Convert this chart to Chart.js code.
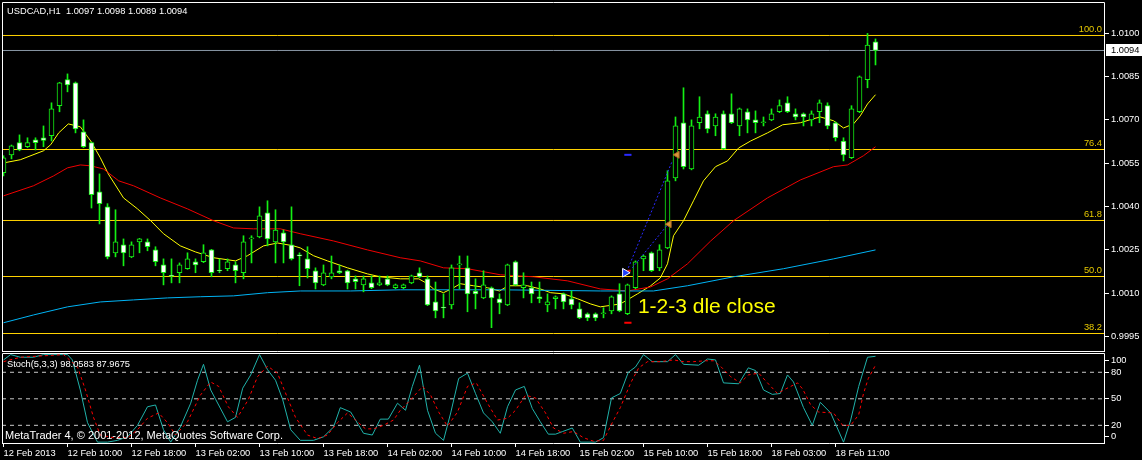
<!DOCTYPE html>
<html>
<head>
<meta charset="utf-8">
<script src="https://cdn.jsdelivr.net/npm/chart.js@4.4.1/dist/chart.umd.min.js"></script>
<style>
html, body { margin: 0; padding: 0; background: #000; overflow: hidden; }
#wrap { position: relative; width: 1142px; height: 460px; background: #000; }
canvas { position: absolute; left: 0; }
#mainChart { top: 0; }
#stochChart { top: 352px; }
</style>
</head>
<body>
<div id="wrap">
  <canvas id="mainChart" width="1142" height="352"></canvas>
  <canvas id="stochChart" width="1142" height="108"></canvas>
</div>
<script>
// USDCAD H1 candles, bar index 0 = 12 Feb 02:00
const opens = [1.00517,1.00579,1.00621,1.00607,1.00631,1.00638,1.00645,1.00749,1.00839,1.00828,
  1.00659,1.00621,1.00451,1.00399,1.00240,1.00268,1.00226,1.00278,1.00278,1.00250,
  1.00198,1.00160,1.00171,1.00185,1.00209,1.00209,1.00250,1.00178,1.00185,1.00198,
  1.00171,1.00288,1.00295,1.00378,1.00278,1.00309,1.00268,1.00233,1.00219,1.00178,
  1.00129,1.00157,1.00178,1.00178,1.00150,1.00129,1.00136,1.00129,1.00150,1.00119,
  1.00119,1.00136,1.00171,1.00150,1.00070,1.00050,1.00060,1.00198,1.00188,1.00108,
  1.00084,1.00119,1.00081,1.00060,1.00209,1.00119,1.00119,1.00088,1.00060,1.00081,
  1.00098,1.00081,1.00046,1.00029,1.00029,1.00029,1.00039,1.00098,1.00029,1.00119,
  1.00219,1.00240,1.00188,1.00257,1.00499,1.00690,1.00530,1.00690,1.00721,1.00679,
  1.00721,1.00721,1.00679,1.00728,1.00700,1.00690,1.00700,1.00728,1.00759,1.00721,
  1.00721,1.00700,1.00728,1.00749,1.00690,1.00627,1.00569,1.00728,1.00839,1.00970];
const highs = [1.00576,1.00613,1.00648,1.00638,1.00638,1.00679,1.00759,1.00830,1.00859,1.00831,
  1.00700,1.00623,1.00513,1.00410,1.00389,1.00288,1.00278,1.00290,1.00288,1.00261,
  1.00219,1.00219,1.00205,1.00240,1.00219,1.00268,1.00252,1.00219,1.00219,1.00209,
  1.00299,1.00299,1.00399,1.00420,1.00389,1.00319,1.00399,1.00240,1.00261,1.00188,
  1.00198,1.00229,1.00198,1.00180,1.00160,1.00160,1.00160,1.00160,1.00160,1.00132,
  1.00132,1.00163,1.00188,1.00160,1.00139,1.00098,1.00198,1.00229,1.00229,1.00150,
  1.00178,1.00122,1.00098,1.00201,1.00212,1.00171,1.00139,1.00139,1.00098,1.00091,
  1.00101,1.00108,1.00067,1.00032,1.00032,1.00050,1.00091,1.00133,1.00132,1.00212,
  1.00232,1.00243,1.00268,1.00524,1.00710,1.00811,1.00700,1.00780,1.00731,1.00721,
  1.00731,1.00790,1.00741,1.00738,1.00731,1.00710,1.00738,1.00769,1.00780,1.00738,
  1.00724,1.00731,1.00769,1.00759,1.00693,1.00638,1.00749,1.00852,1.00999,1.00980];
const lows = [1.00506,1.00565,1.00593,1.00604,1.00596,1.00607,1.00627,1.00728,1.00797,1.00655,
  1.00604,1.00395,1.00340,1.00219,1.00226,1.00195,1.00223,1.00240,1.00247,1.00195,
  1.00129,1.00136,1.00136,1.00183,1.00171,1.00206,1.00157,1.00171,1.00178,1.00136,
  1.00150,1.00205,1.00292,1.00264,1.00205,1.00205,1.00215,1.00126,1.00153,1.00115,
  1.00126,1.00150,1.00168,1.00115,1.00115,1.00105,1.00116,1.00126,1.00126,1.00116,
  1.00116,1.00133,1.00154,1.00057,1.00015,1.00015,1.00046,1.00115,1.00036,1.00046,
  1.00081,0.99981,1.00029,1.00057,1.00126,1.00084,1.00067,1.00067,1.00036,1.00046,
  1.00046,1.00046,1.00012,1.00005,1.00005,1.00015,1.00029,1.00036,1.00026,1.00116,
  1.00178,1.00175,1.00178,1.00254,1.00489,1.00530,1.00527,1.00669,1.00655,1.00645,
  1.00597,1.00687,1.00645,1.00655,1.00655,1.00679,1.00697,1.00725,1.00725,1.00700,
  1.00679,1.00679,1.00690,1.00669,1.00627,1.00558,1.00566,1.00725,1.00811,1.00890];
const closes = [1.00569,1.00610,1.00596,1.00621,1.00621,1.00629,1.00738,1.00828,1.00821,1.00669,
  1.00607,1.00441,1.00410,1.00226,1.00278,1.00240,1.00268,1.00288,1.00261,1.00209,
  1.00171,1.00159,1.00198,1.00219,1.00198,1.00240,1.00171,1.00177,1.00209,1.00178,
  1.00278,1.00289,1.00368,1.00288,1.00319,1.00278,1.00219,1.00229,1.00185,1.00136,
  1.00171,1.00171,1.00171,1.00136,1.00140,1.00150,1.00119,1.00136,1.00129,1.00129,
  1.00129,1.00160,1.00157,1.00060,1.00039,1.00049,1.00188,1.00199,1.00098,1.00098,
  1.00129,1.00084,1.00067,1.00198,1.00129,1.00129,1.00098,1.00081,1.00070,1.00088,
  1.00070,1.00060,1.00015,1.00015,1.00015,1.00030,1.00088,1.00039,1.00129,1.00209,
  1.00229,1.00178,1.00250,1.00489,1.00679,1.00538,1.00679,1.00710,1.00669,1.00710,
  1.00600,1.00690,1.00738,1.00700,1.00690,1.00691,1.00721,1.00749,1.00728,1.00710,
  1.00710,1.00721,1.00759,1.00679,1.00638,1.00579,1.00738,1.00849,1.00959,1.00940];

// moving averages (yellow / red / blue) at bar index positions
const maFastIdx = [0,2.1,5,5.9,6.9,8.1,9.6,10.9,12.1,13.1,15,16.75,18.4,20,22.1,24,26.25,29,30.5,32.5,
  34.25,36.25,37.1,38.75,40.5,43,45.5,47.1,49.6,51.9,53,53.75,55,56.25,57.1,58.75,60.5,62,63.1,65.5,
  67.1,68.4,70,71.75,73.4,74.6,77.1,79.25,80.9,82.1,83,83.75,85,86.25,87.5,89,90.5,91.9,93.4,95.5,
  97.4,99.6,101.25,102.1,103.75,105,106.25,107.1,108,109];
const maFastVal = [1.00551,1.00562,1.00593,1.00614,1.00655,1.00686,1.00676,1.00627,1.00569,1.00513,
  1.00430,1.00392,1.00351,1.00306,1.00264,1.00243,1.00223,1.00212,1.00230,1.00264,
  1.00274,1.00264,1.00257,1.00230,1.00212,1.00188,1.00167,1.00157,1.00150,1.00150,
  1.00133,1.00115,1.00102,1.00119,1.00133,1.00126,1.00119,1.00108,1.00126,1.00126,
  1.00115,1.00102,1.00098,1.00081,1.00063,1.00053,1.00063,1.00098,1.00126,1.00153,
  1.00202,1.00299,1.00351,1.00420,1.00489,1.00538,1.00558,1.00603,1.00627,1.00655,
  1.00683,1.00690,1.00704,1.00710,1.00697,1.00672,1.00686,1.00714,1.00755,1.00787];
const maMidIdx = [0,3.75,6.25,8,9.6,10.9,12.5,14.4,16.25,19.6,23,26.25,28.75,31.25,34.6,37.1,41.25,45.5,49.6,52.1,
  55,58,62.1,66.25,70.5,74.6,78,80.9,83,85.5,88.4,91.25,95.5,99.6,103.75,105.5,107.5,109];
const maMidVal = [1.00437,1.00472,1.00506,1.00534,1.00544,1.00541,1.00530,1.00489,1.00472,1.00430,
  1.00392,1.00351,1.00326,1.00323,1.00323,1.00306,1.00281,1.00250,1.00223,1.00212,
  1.00188,1.00185,1.00164,1.00157,1.00143,1.00115,1.00108,1.00122,1.00150,1.00202,
  1.00281,1.00351,1.00430,1.00492,1.00538,1.00544,1.00576,1.00607];
const maSlowIdx = [0,3.75,8,12.1,16.25,20.5,24.6,28.75,33,37.1,43.4,49.6,62.1,74.6,81.25,85.5,91.25,97.5,103.75,109];
const maSlowVal = [0.99998,1.00025,1.00053,1.00070,1.00077,1.00084,1.00088,1.00091,1.00102,1.00108,
  1.00108,1.00112,1.00112,1.00108,1.00108,1.00126,1.00157,1.00185,1.00219,1.00250];

// Fibonacci retracement levels
const fibLevels = [1.009919, 1.005974, 1.003518, 1.001580, 0.999608];
const fibNames = ['100.0', '76.4', '61.8', '50.0', '38.2'];
const lastPrice = 1.0094;

// 1-2-3 pattern marks
const patLineA = { idx: [78.1, 83.6], val: [1.00188, 1.00558] };
const patLineB = { idx: [78.6, 83.1], val: [1.00188, 1.00340] };
const patTargetBlue = { idx: [77.6, 78.5], val: [1.00579, 1.00579] };
const patStopRed = { idx: [77.6, 78.5], val: [0.99998, 0.99998] };
const patEntryRed = { idx: [78.0, 78.4], val: [1.00178, 1.00178] };
const patArrowIdx = [77.7], patArrowVal = [1.00171];
const patFlagIdx = [83.2, 84.2], patFlagVal = [1.00339, 1.00579];
const patternText = '1-2-3 dle close';
const patternTextIdx = 79.3, patternTextPrice = 1.00033;

// price axis ticks
const priceTicks = [0.9995, 1.0010, 1.0025, 1.0040, 1.0055, 1.0070, 1.0085, 1.0100];

// stochastic (5,3,3)
const stochMainIdx = [0,0.9,2.1,3.75,5,8,8.6,9.6,10.5,11.75,13,14.25,15.5,16.75,18,19,20,20.9,22.1,23.4,
  24.25,25,25.9,28,29,29.9,30.9,32,33,34,34.9,35.9,37.1,38.75,40,41.25,42.1,43.4,45,46.1,
  47.1,48.1,49.25,50.25,51.1,52,53,54,55,55.9,56.9,58,59,60,61.1,62.1,63,64,65.1,66.1,
  67.1,68.1,69,69.9,71.1,72.1,74,75,76,77.1,78.1,79,80,81.1,83,84,85,86.9,88,89,
  90,91.9,93.1,94,95,96.1,97.1,98,98.75,100,101.1,102.1,103.4,105,105.9,106.9,108,109];
const stochMainVal = [94,100,97,97,100,100,94,60,23,1,1,3,7,20,41,43,15,1,18,45,
  71,89,60,24,29,62,77,100,83,71,49,15,3,3,7,18,40,35,11,9,
  27,27,45,37,64,88,37,11,3,34,73,79,56,34,24,11,41,60,64,39,
  24,10,10,13,17,1,1,6,51,56,80,86,100,92,92,100,89,88,95,94,
  68,67,85,82,60,55,56,77,69,40,20,46,34,1,26,64,97,98.06];
const stochSigIdx = [0,2.1,7.5,9.25,10.25,11.25,12.1,13.75,15.5,16.75,18,19.4,20.5,21.5,23,24.6,25.9,26.9,28.1,29.25,
  30.6,31.75,33,34.25,35.5,36.5,38,39.25,40.5,41.75,43,44,45.25,46.25,47.5,48.75,49.6,50.9,52.4,53.4,
  54.4,55.5,56.75,58,59.1,60.5,61.75,63,64,65.25,66.5,67.75,68.75,70,71.25,72.5,73.75,75,76.1,77.1,
  78.4,79.4,80.5,82.1,83.75,85,86.25,87.75,88.75,89.6,90.9,92.1,93.1,94.4,95.5,96.75,97.75,98.4,99.25,99.9,
  100.9,101.9,103.75,104.9,105.9,106.9,107.5,108.1,109];
const stochSigVal = [92,97,100,86,60,29,9,6,6,15,28,34,23,9,24,54,69,64,41,29,
  49,75,87,79,51,29,9,5,9,23,34,26,16,16,20,26,37,49,64,54,
  35,19,35,64,68,45,26,28,37,54,51,34,17,11,13,6,2,3,23,40,
  68,85,92,92,94,92,92,93,93,87,75,68,77,79,68,56,61,64,68,61,
  43,35,34,20,20,32,56,73,87.97];
const stochLevels = [20, 50, 80];
const stochTickPos = [7.9, 20, 50, 80, 93.2];
const stochTickText = ['0', '20', '50', '80', '100'];

// time axis
const timeTickIdx = [0, 8, 16, 24, 32, 40, 48, 56, 64, 72, 80, 88, 96, 104];
const timeTickText = ['12 Feb 2013', '12 Feb 10:00', '12 Feb 18:00', '13 Feb 02:00', '13 Feb 10:00',
  '13 Feb 18:00', '14 Feb 02:00', '14 Feb 10:00', '14 Feb 18:00', '15 Feb 02:00', '15 Feb 10:00',
  '15 Feb 18:00', '18 Feb 03:00', '18 Feb 11:00'];

const headerText = 'USDCAD,H1  1.0097 1.0098 1.0089 1.0094';
const stochText = 'Stoch(5,3,3) 98.0583 87.9675';
const copyText = 'MetaTrader 4, \u00A9 2001-2012, MetaQuotes Software Corp.';

// ---------------------------------------------------------------
const X_MIN = -0.1875, X_MAX = 137.6875;
const Y_MIN = 0.998968, Y_MAX = 1.011078;
const FONT = '"Liberation Sans", Arial, sans-serif';
const SMALL = 9.3;
const CANDLE = '#14f014';

Chart.defaults.font.family = FONT;
Chart.defaults.color = '#ffffff';

const pts = (xs, ys) => xs.map((v, k) => ({ x: v, y: ys[k] }));
const hline = (y) => [{ x: X_MIN, y: y }, { x: X_MAX, y: y }];

const wickData = opens.map((o, i) => ({ x: i, y: [lows[i], highs[i]] }));
const bodyData = opens.map((o, i) => ({ x: i, y: [o, closes[i]] }));
const bodyFill = opens.map((o, i) => (closes[i] < o ? '#ffffff' : '#000000'));

const lineDs = (data, color, order, extra) => Object.assign({
  type: 'line', data: data, borderColor: color, borderWidth: 1,
  pointRadius: 0, fill: false, tension: 0, order: order
}, extra || {});

const mainDatasets = [];
fibLevels.forEach((lv) => mainDatasets.push(lineDs(hline(lv), '#ffd200', 7)));
mainDatasets.push(lineDs(hline(lastPrice), '#8896a4', 7));
mainDatasets.push(lineDs(pts(maSlowIdx, maSlowVal), '#00b4f5', 6));
mainDatasets.push(lineDs(pts(maMidIdx, maMidVal), '#f00000', 6));
mainDatasets.push(lineDs(pts(maFastIdx, maFastVal), '#ffff00', 6));
mainDatasets.push({
  type: 'bar', data: wickData, backgroundColor: CANDLE, borderWidth: 0,
  barThickness: 1, grouped: false, order: 5
});
mainDatasets.push({
  type: 'bar', data: bodyData, backgroundColor: bodyFill, borderColor: CANDLE,
  borderWidth: 1, borderSkipped: false, barThickness: 5, minBarLength: 1,
  grouped: false, order: 4
});
mainDatasets.push(lineDs(pts(patLineA.idx, patLineA.val), '#2a2aff', 2, { borderDash: [2, 2] }));
mainDatasets.push(lineDs(pts(patLineB.idx, patLineB.val), '#2a2aff', 2, { borderDash: [2, 2] }));
mainDatasets.push(lineDs(pts(patTargetBlue.idx, patTargetBlue.val), '#2a2aff', 2, { borderWidth: 2 }));
mainDatasets.push(lineDs(pts(patStopRed.idx, patStopRed.val), '#ff0000', 2, { borderWidth: 2 }));
mainDatasets.push(lineDs(pts(patEntryRed.idx, patEntryRed.val), '#ff0000', 2, { borderWidth: 2 }));
mainDatasets.push({
  type: 'line', data: pts(patArrowIdx, patArrowVal), showLine: false,
  pointStyle: 'triangle', rotation: 90, pointRadius: 5,
  pointBackgroundColor: '#1e3cff', pointBorderColor: '#ffffff', pointBorderWidth: 1, order: 1
});
mainDatasets.push({
  type: 'line', data: pts(patFlagIdx, patFlagVal), showLine: false,
  pointStyle: 'triangle', rotation: -90, pointRadius: 4,
  pointBackgroundColor: '#d8963c', pointBorderColor: '#b07020', pointBorderWidth: 1, order: 1
});

const mainOverlay = {
  id: 'mainOverlay',
  afterDraw(chart) {
    const { ctx, chartArea: a } = chart;
    const x = chart.scales.x, y = chart.scales.y;
    ctx.save();
    ctx.strokeStyle = '#ffffff';
    ctx.lineWidth = 1;
    ctx.beginPath();
    ctx.moveTo(a.left + 0.5, a.bottom);
    ctx.lineTo(a.left + 0.5, a.top + 0.5);
    ctx.lineTo(a.right - 0.5, a.top + 0.5);
    ctx.lineTo(a.right - 0.5, a.bottom);
    ctx.moveTo(a.left, a.bottom - 0.5);
    ctx.lineTo(a.right, a.bottom - 0.5);
    ctx.stroke();

    ctx.font = SMALL + 'px ' + FONT;
    ctx.fillStyle = '#ffffff';
    ctx.textAlign = 'left';
    ctx.textBaseline = 'middle';
    ctx.fillText(headerText, 7, 11);

    ctx.fillStyle = '#e6c800';
    ctx.textAlign = 'right';
    ctx.textBaseline = 'bottom';
    fibLevels.forEach((lv, k) => {
      ctx.fillText(fibNames[k], a.right - 3, y.getPixelForValue(lv) - 1);
    });

    const py = Math.round(y.getPixelForValue(lastPrice));
    ctx.fillStyle = '#ffffff';
    ctx.fillRect(a.right + 1, py - 6, chart.width - a.right - 1, 12);
    ctx.fillStyle = '#000000';
    ctx.textAlign = 'left';
    ctx.textBaseline = 'middle';
    ctx.fillText(lastPrice.toFixed(4), a.right + 6, py + 0.5);

    ctx.font = '21px ' + FONT;
    ctx.fillStyle = '#ffff00';
    ctx.textBaseline = 'alphabetic';
    ctx.fillText(patternText, x.getPixelForValue(patternTextIdx), y.getPixelForValue(patternTextPrice));
    ctx.restore();
  }
};

new Chart(document.getElementById('mainChart'), {
  type: 'bar',
  data: { datasets: mainDatasets },
  options: {
    animation: false,
    responsive: false,
    devicePixelRatio: 1,
    events: [],
    layout: { autoPadding: false, padding: { left: 2, top: 2, right: 0, bottom: 0 } },
    scales: {
      x: { type: 'linear', display: false, min: X_MIN, max: X_MAX, offset: false, grid: { offset: false } },
      y: {
        type: 'linear', position: 'right', min: Y_MIN, max: Y_MAX,
        afterBuildTicks: (s) => { s.ticks = priceTicks.map((v) => ({ value: v })); },
        afterFit: (s) => { s.width = 37; s.paddingTop = 0; s.paddingBottom = 0; },
        ticks: { color: '#ffffff', font: { size: SMALL }, padding: 2, callback: (v) => Number(v).toFixed(4) },
        grid: { drawOnChartArea: false, tickLength: 4, color: '#ffffff' },
        border: { display: false }
      }
    },
    plugins: { legend: { display: false }, tooltip: { enabled: false } }
  },
  plugins: [mainOverlay]
});

// ---------------------------------------------------------------
const stochDatasets = [];
stochLevels.forEach((lv) => stochDatasets.push(lineDs(hline(lv), '#c8c8c8', 3, { borderDash: [4, 4] })));
stochDatasets.push(lineDs(pts(stochMainIdx, stochMainVal), '#20b2aa', 2));
stochDatasets.push(lineDs(pts(stochSigIdx, stochSigVal), '#ff0000', 1, { borderDash: [3, 3] }));

const stochOverlay = {
  id: 'stochOverlay',
  afterDraw(chart) {
    const { ctx, chartArea: a } = chart;
    ctx.save();
    ctx.strokeStyle = '#ffffff';
    ctx.lineWidth = 1;
    ctx.beginPath();
    ctx.moveTo(a.left + 0.5, a.bottom + 1);
    ctx.lineTo(a.left + 0.5, a.top + 0.5);
    ctx.lineTo(a.right - 0.5, a.top + 0.5);
    ctx.lineTo(a.right - 0.5, a.bottom + 1);
    ctx.moveTo(a.left, a.bottom + 0.5);
    ctx.lineTo(a.right, a.bottom + 0.5);
    ctx.stroke();

    ctx.fillStyle = '#ffffff';
    ctx.textAlign = 'left';
    ctx.textBaseline = 'middle';
    ctx.font = SMALL + 'px ' + FONT;
    ctx.fillText(stochText, 7, 12);
    ctx.font = '11px ' + FONT;
    ctx.fillText(copyText, 5, 84);
    ctx.restore();
  }
};

new Chart(document.getElementById('stochChart'), {
  type: 'line',
  data: { datasets: stochDatasets },
  options: {
    animation: false,
    responsive: false,
    devicePixelRatio: 1,
    events: [],
    layout: { autoPadding: false, padding: { left: 2, top: 1, right: 0, bottom: 0 } },
    scales: {
      x: {
        type: 'linear', min: X_MIN, max: X_MAX, offset: false,
        afterBuildTicks: (s) => { s.ticks = timeTickIdx.map((v) => ({ value: v })); },
        afterFit: (s) => { s.height = 17; s.paddingLeft = 0; s.paddingRight = 0; },
        ticks: {
          color: '#ffffff', font: { size: SMALL }, align: 'start', padding: 1,
          maxRotation: 0, minRotation: 0, autoSkip: false,
          callback: (v, i) => timeTickText[i]
        },
        grid: { drawOnChartArea: false, tickLength: 4, color: '#ffffff', offset: false },
        border: { display: false }
      },
      y: {
        type: 'linear', position: 'right', min: 0, max: 101.8,
        afterBuildTicks: (s) => { s.ticks = stochTickPos.map((v) => ({ value: v })); },
        afterFit: (s) => { s.width = 37; s.paddingTop = 0; s.paddingBottom = 0; },
        ticks: { color: '#ffffff', font: { size: SMALL }, padding: 2, callback: (v, i) => stochTickText[i] },
        grid: { drawOnChartArea: false, tickLength: 4, color: '#ffffff' },
        border: { display: false }
      }
    },
    plugins: { legend: { display: false }, tooltip: { enabled: false } }
  },
  plugins: [stochOverlay]
});
</script>
</body>
</html>
